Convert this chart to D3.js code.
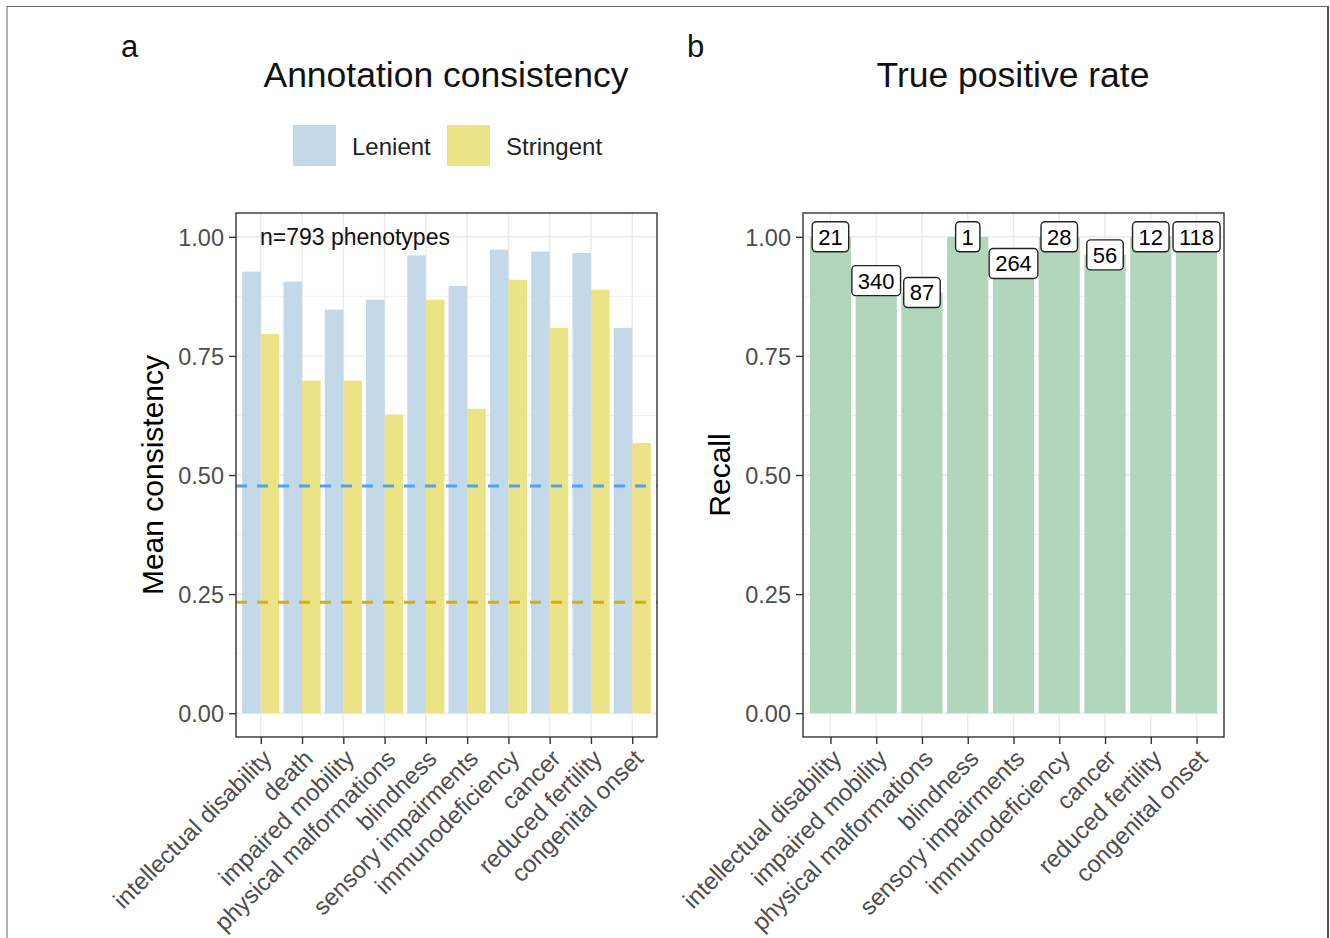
<!DOCTYPE html>
<html><head><meta charset="utf-8">
<script src="https://cdn.jsdelivr.net/npm/d3@7"></script>
<style>body{margin:0;background:#fff}svg{display:block;font-family:"Liberation Sans",Arial,sans-serif}</style>
</head><body>
<svg id="c" width="1330" height="938"></svg>
<script>
const catsA = ["intellectual disability","death","impaired mobility","physical malformations","blindness","sensory impairments","immunodeficiency","cancer","reduced fertility","congenital onset"];
const lenient = [0.927,0.906,0.847,0.868,0.961,0.897,0.973,0.969,0.966,0.809];
const stringent = [0.796,0.698,0.698,0.627,0.868,0.639,0.910,0.809,0.889,0.567];
const refLines = [{name:"Lenient",v:0.477},{name:"Stringent",v:0.233}];
const catsB = ["intellectual disability","impaired mobility","physical malformations","blindness","sensory impairments","immunodeficiency","cancer","reduced fertility","congenital onset"];
const recall = [1.0,0.908,0.883,1.0,0.944,1.0,0.962,1.0,1.0];
const counts = [21,340,87,1,264,28,56,12,118];
const yTicks = [0,0.25,0.5,0.75,1.0];
const yMinor = [0.125,0.375,0.625,0.875];

const svg = d3.select("#c");
const colL = "#c3d9ea", colS = "#ebe386", colG = "#b1d6bc";
const dashCol = {Lenient:"#4aa3f7", Stringent:"#d4ae10"};
const axisFont = "23.5px";

// outer frame
svg.append("line").attr("x1",7).attr("x2",7).attr("y1",6).attr("y2",940).attr("stroke","#666").attr("stroke-width",1);
svg.append("line").attr("x1",7).attr("x2",1328).attr("y1",6.5).attr("y2",6.5).attr("stroke","#666").attr("stroke-width",1);
svg.append("line").attr("x1",1328).attr("x2",1328).attr("y1",6).attr("y2",940).attr("stroke","#555").attr("stroke-width",2);

function panel(x0, x1, y0, y1, cats, yLabel) {
  const g = svg.append("g");
  const x = d3.scalePoint().domain(cats).range([x0, x1]).padding(0.6);
  const y = d3.scaleLinear().domain([-0.05, 1.05]).range([y1, y0]);
  g.selectAll(".mn").data(yMinor).join("line").attr("x1",x0).attr("x2",x1)
    .attr("y1",d=>y(d)).attr("y2",d=>y(d)).attr("stroke","#ebebeb").attr("stroke-width",0.7);
  g.selectAll(".mj").data(yTicks).join("line").attr("x1",x0).attr("x2",x1)
    .attr("y1",d=>y(d)).attr("y2",d=>y(d)).attr("stroke","#ebebeb").attr("stroke-width",1.4);
  g.selectAll(".vx").data(cats).join("line").attr("x1",d=>x(d)).attr("x2",d=>x(d))
    .attr("y1",y0).attr("y2",y1).attr("stroke","#ebebeb").attr("stroke-width",1.4);
  const ya = d3.axisLeft(y).tickValues(yTicks).tickFormat(d3.format(".2f")).tickSize(7).tickPadding(5);
  const ay = svg.append("g").attr("transform",`translate(${x0},0)`).call(ya);
  ay.select(".domain").remove();
  ay.selectAll("line").attr("stroke","#333").attr("stroke-width",1.4);
  ay.selectAll("text").attr("fill","#4d4d4d").style("font-size",axisFont).attr("dy","0.36em");
  const xa = d3.axisBottom(x).tickSize(7).tickPadding(4);
  const ax = svg.append("g").attr("transform",`translate(0,${y1})`).call(xa);
  ax.select(".domain").remove();
  ax.selectAll("line").attr("stroke","#333").attr("stroke-width",1.4);
  ax.selectAll("text").attr("fill","#4d4d4d").style("font-size","24px")
    .attr("text-anchor","end").attr("y",0).attr("dy",0)
    .attr("transform","translate(12,23) rotate(-45)");
  svg.append("text").attr("transform",`translate(${x0-84},${(y0+y1)/2}) rotate(-90)`)
    .attr("text-anchor","middle").attr("dy","0.35em").style("font-size","30px").attr("fill","#000").text(yLabel);
  return {g, x, y};
}

// Panel a
const A = panel(236, 657, 213, 737, catsA, "Mean consistency");
const bwA = A.x.step()*0.9/2;
A.g.selectAll(".bl").data(catsA).join("rect")
  .attr("x",d=>A.x(d)-bwA).attr("width",bwA).attr("y",(d,i)=>A.y(lenient[i]))
  .attr("height",(d,i)=>A.y(0)-A.y(lenient[i])).attr("fill",colL);
A.g.selectAll(".bs").data(catsA).join("rect")
  .attr("x",d=>A.x(d)).attr("width",bwA).attr("y",(d,i)=>A.y(stringent[i]))
  .attr("height",(d,i)=>A.y(0)-A.y(stringent[i])).attr("fill",colS);
A.g.selectAll(".rl").data(refLines).join("line").attr("x1",236).attr("x2",657)
  .attr("y1",d=>A.y(d.v)).attr("y2",d=>A.y(d.v)).attr("stroke",d=>dashCol[d.name])
  .attr("stroke-width",3).attr("stroke-dasharray","11,10");
svg.append("rect").attr("x",236).attr("y",213).attr("width",421).attr("height",524)
  .attr("fill","none").attr("stroke","#333").attr("stroke-width",1.4);
svg.append("text").attr("x",260).attr("y",A.y(1.0)).attr("dy","0.36em").style("font-size","23px").attr("fill","#111").text("n=793 phenotypes");

// Panel b
const B = panel(803, 1224, 213, 737, catsB, "Recall");
const bwB = B.x.step()*0.9;
B.g.selectAll(".bg").data(catsB).join("rect")
  .attr("x",d=>B.x(d)-bwB/2).attr("width",bwB).attr("y",(d,i)=>B.y(recall[i]))
  .attr("height",(d,i)=>B.y(0)-B.y(recall[i])).attr("fill",colG);
svg.append("rect").attr("x",803).attr("y",213).attr("width",421).attr("height",524)
  .attr("fill","none").attr("stroke","#333").attr("stroke-width",1.4);
const lab = svg.append("g").selectAll("g").data(catsB).join("g")
  .attr("transform",(d,i)=>`translate(${B.x(d)},${B.y(recall[i])})`);
lab.append("text").attr("text-anchor","middle").attr("dy","0.36em")
  .style("font-size","22px").attr("fill","#000").text((d,i)=>counts[i]);
lab.each(function(){
  const t = d3.select(this).select("text");
  const w = t.node().getComputedTextLength();
  d3.select(this).insert("rect","text").attr("x",-w/2-6).attr("y",-15).attr("width",w+12).attr("height",30)
    .attr("rx",4).attr("fill","#fff").attr("stroke","#222").attr("stroke-width",1.4);
});

// titles
svg.append("text").attr("x",446).attr("y",87).attr("text-anchor","middle").style("font-size","35.5px").attr("fill","#111").text("Annotation consistency");
svg.append("text").attr("x",1013).attr("y",87).attr("text-anchor","middle").style("font-size","35.5px").attr("fill","#111").text("True positive rate");
svg.append("text").attr("x",121).attr("y",57).style("font-size","31px").attr("fill","#111").text("a");
svg.append("text").attr("x",687).attr("y",57).style("font-size","31px").attr("fill","#111").text("b");

// legend
const legend = [{name:"Lenient",c:colL,x:293},{name:"Stringent",c:colS,x:447}];
const lg = svg.append("g").selectAll("g").data(legend).join("g").attr("transform",d=>`translate(${d.x},125)`);
lg.append("rect").attr("width",43).attr("height",41).attr("fill",d=>d.c);
lg.append("text").attr("x",59).attr("y",21).attr("dy","0.36em").style("font-size","24px").attr("fill","#222").text(d=>d.name);
</script>
</body></html>
